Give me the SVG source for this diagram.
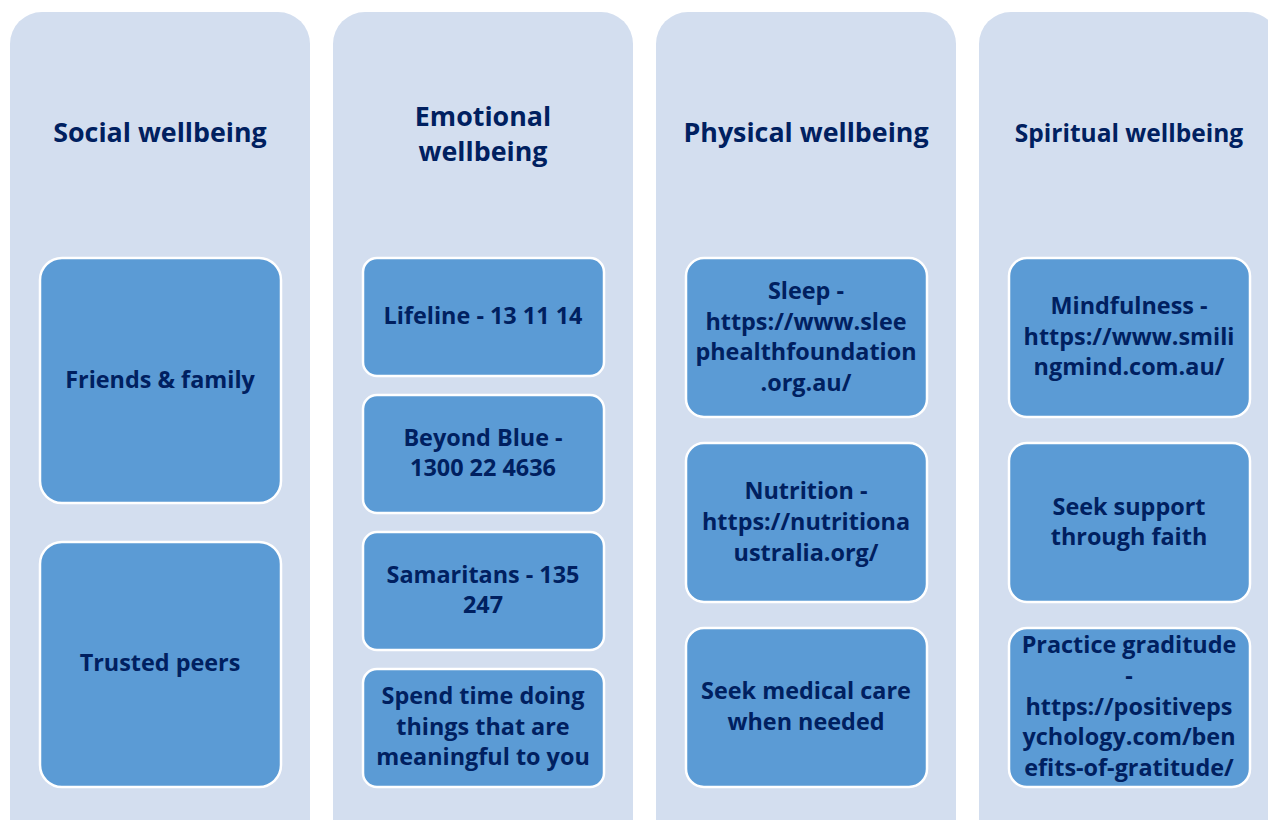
<svg xmlns="http://www.w3.org/2000/svg" width="1268" height="820" viewBox="0 0 1268 820">
  <style>
    .col { fill: #D3DEEF; }
    .box { fill: #5B9BD5; stroke: #FFFFFF; stroke-width: 2.5; }
    .hd { font-family: "Open Sans", Lato, sans-serif; font-weight: 700; font-size: 26.8px; fill: #002060; text-anchor: middle; }
    .hd.sm { font-size: 24.5px; }
    .tx { font-family: "Open Sans", Lato, sans-serif; font-weight: 700; font-size: 23.4px; fill: #002060; text-anchor: middle; }
  </style>
  <rect width="1268" height="820" fill="#FFFFFF"/>

  <!-- Social wellbeing column -->
  <g id="social">
    <rect class="col" x="10" y="12" width="300" height="840" rx="32"/>
    <text class="hd" x="160" y="142">Social wellbeing</text>
    <g id="friends-family">
      <rect class="box" x="40" y="258" width="241" height="245" rx="22"/>
      <text class="tx" x="160" y="388">Friends &amp; family</text>
    </g>
    <g id="trusted-peers">
      <rect class="box" x="40" y="542" width="241" height="245" rx="22"/>
      <text class="tx" x="160" y="671">Trusted peers</text>
    </g>
  </g>

  <!-- Emotional wellbeing column -->
  <g id="emotional">
    <rect class="col" x="333" y="12" width="300" height="840" rx="32"/>
    <text class="hd" x="483" y="126">Emotional</text>
    <text class="hd" x="483" y="161">wellbeing</text>
    <g id="lifeline">
      <rect class="box" x="363" y="258" width="241" height="118" rx="14"/>
      <text class="tx" x="483" y="324">Lifeline - 13 11 14</text>
    </g>
    <g id="beyond-blue">
      <rect class="box" x="363" y="395" width="241" height="118" rx="14"/>
      <text class="tx" x="483" y="446">Beyond Blue -</text>
      <text class="tx" x="483" y="476">1300 22 4636</text>
    </g>
    <g id="samaritans">
      <rect class="box" x="363" y="532" width="241" height="118" rx="14"/>
      <text class="tx" x="483" y="583">Samaritans - 135</text>
      <text class="tx" x="483" y="613">247</text>
    </g>
    <g id="meaningful">
      <rect class="box" x="363" y="669" width="241" height="118" rx="14"/>
      <text class="tx" x="483" y="704">Spend time doing</text>
      <text class="tx" x="483" y="735">things that are</text>
      <text class="tx" x="483" y="765">meaningful to you</text>
    </g>
  </g>

  <!-- Physical wellbeing column -->
  <g id="physical">
    <rect class="col" x="656" y="12" width="300" height="840" rx="32"/>
    <text class="hd" x="806" y="142">Physical wellbeing</text>
    <g id="sleep">
      <rect class="box" x="686" y="258" width="241" height="159" rx="18"/>
      <text class="tx" x="806" y="299">Sleep -</text>
      <text class="tx" x="806" y="330">https://www.slee</text>
      <text class="tx" x="806" y="360">phealthfoundation</text>
      <text class="tx" x="806" y="391">.org.au/</text>
    </g>
    <g id="nutrition">
      <rect class="box" x="686" y="443" width="241" height="159" rx="18"/>
      <text class="tx" x="806" y="499">Nutrition -</text>
      <text class="tx" x="806" y="530">https://nutritiona</text>
      <text class="tx" x="806" y="561">ustralia.org/</text>
    </g>
    <g id="medical">
      <rect class="box" x="686" y="628" width="241" height="159" rx="18"/>
      <text class="tx" x="806" y="699">Seek medical care</text>
      <text class="tx" x="806" y="730">when needed</text>
    </g>
  </g>

  <!-- Spiritual wellbeing column -->
  <g id="spiritual">
    <rect class="col" x="979" y="12" width="300" height="840" rx="32"/>
    <text class="hd sm" x="1129" y="142">Spiritual wellbeing</text>
    <g id="mindfulness">
      <rect class="box" x="1009" y="258" width="241" height="159" rx="18"/>
      <text class="tx" x="1129" y="314">Mindfulness -</text>
      <text class="tx" x="1129" y="345">https://www.smili</text>
      <text class="tx" x="1129" y="375">ngmind.com.au/</text>
    </g>
    <g id="faith">
      <rect class="box" x="1009" y="443" width="241" height="159" rx="18"/>
      <text class="tx" x="1129" y="515">Seek support</text>
      <text class="tx" x="1129" y="545">through faith</text>
    </g>
    <g id="gratitude">
      <rect class="box" x="1009" y="628" width="241" height="159" rx="18"/>
      <text class="tx" x="1129" y="653">Practice graditude</text>
      <text class="tx" x="1129" y="684">-</text>
      <text class="tx" x="1129" y="715">https://positiveps</text>
      <text class="tx" x="1129" y="745">ychology.com/ben</text>
      <text class="tx" x="1129" y="776">efits-of-gratitude/</text>
    </g>
  </g>

  <!-- no connectors in this layout -->
  <g id="connectors"/>
</svg>
